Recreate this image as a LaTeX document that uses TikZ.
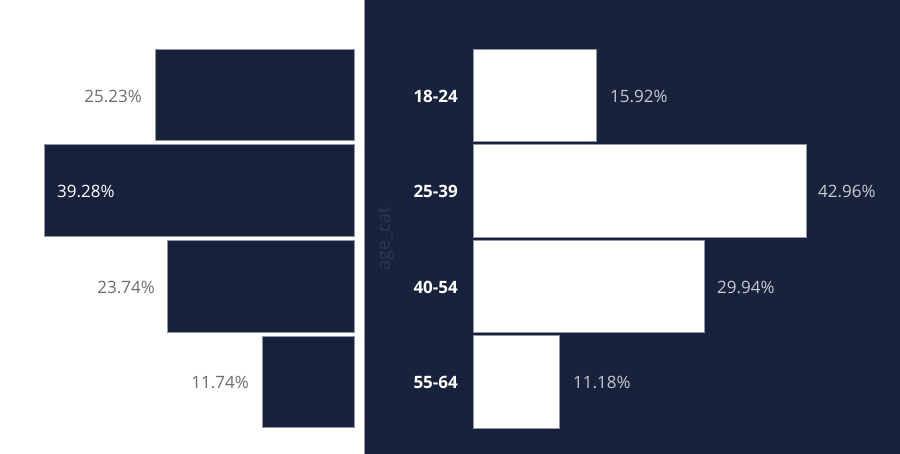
\documentclass[tikz,border=0pt]{standalone}
\usepackage{fontspec}
\setmainfont{Open Sans}
\definecolor{navy}{HTML}{18223C}
\definecolor{edge}{HTML}{9096A4}
\definecolor{lgray}{HTML}{6E6E6E}
\definecolor{rgray}{HTML}{C8CAD0}
\definecolor{axisgray}{HTML}{2E3850}
\tikzset{
  leftbar/.style={fill=navy,draw=edge,line width=0.6pt},
  rightbar/.style={fill=white,draw=edge,line width=0.6pt},
  txt/.style={inner sep=0pt,font=\fontsize{17}{20}\selectfont},
  lval/.style={txt,text=lgray,anchor=east},
  rval/.style={txt,text=rgray,anchor=west},
  cat/.style={txt,text=white,anchor=east,font=\fontsize{17}{20}\selectfont\bfseries},
}
\begin{document}
\begin{tikzpicture}[x=1pt,y=-1pt]
\useasboundingbox (0,0) rectangle (900,454);
\fill[white] (0,0) rectangle (900,454);
\fill[navy] (364,0) rectangle (900,454);
\draw[edge,line width=0.6pt] (364,0) -- (364,454);
% left bars
\draw[leftbar] (155,49) rectangle (354,140);
\draw[leftbar] (44,144) rectangle (354,236);
\draw[leftbar] (167,240) rectangle (354,332);
\draw[leftbar] (262,336) rectangle (354,427);
% right bars
\draw[rightbar] (473,49) rectangle (596,141);
\draw[rightbar] (473,144) rectangle (806,237);
\draw[rightbar] (473,240) rectangle (704,332);
\draw[rightbar] (473,335) rectangle (559,428);
% left values
\node[lval] (l1) at (142,96) {25.23\%};
\node[txt,text=white,anchor=west] (l2) at (57,191) {39.28\%};
\node[lval] (l3) at (155,287) {23.74\%};
\node[lval] (l4) at (249,382) {11.74\%};
% right values
\node[rval] (r1) at (610,96) {15.92\%};
\node[rval] (r2) at (818,191) {42.96\%};
\node[rval] (r3) at (717,287) {29.94\%};
\node[rval] (r4) at (573,382) {11.18\%};
% categories
\node[cat] (c1) at (458,96) {18-24};
\node[cat] (c2) at (458,191) {25-39};
\node[cat] (c3) at (458,287) {40-54};
\node[cat] (c4) at (458,382) {55-64};
% axis title
\node[txt,text=axisgray,rotate=90,font=\fontsize{18}{20}\selectfont] (ax) at (386,239) {age\_cat};
\end{tikzpicture}
\end{document}
